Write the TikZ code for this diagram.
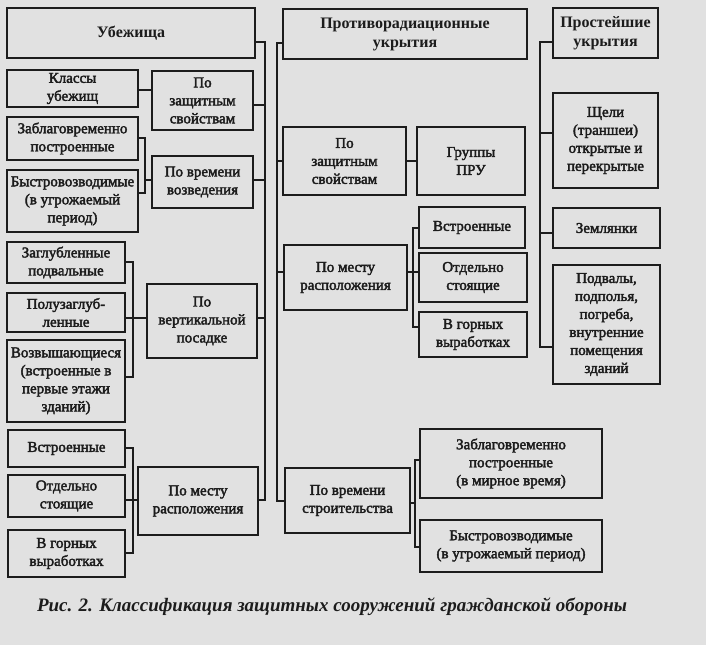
\documentclass[tikz,border=0pt]{standalone}
\usepackage{fontspec}
\setmainfont{Liberation Serif}
\newfontfamily\bodyfont[FakeBold=2.5]{Liberation Serif}
\usetikzlibrary{calc}
\definecolor{bg}{HTML}{E1E1E1}
\definecolor{ink}{HTML}{1C1C1C}
\newcommand\Bx[7]{\node[#2, anchor=north west, minimum width={(#5-#3)*1pt}, minimum height={(#6-#4)*1pt}] (#1) at (#3,#4) {#7};}
\begin{document}
\begin{tikzpicture}[x=1pt,y=-1pt,
  box/.style={draw=ink, line width=2.5pt, fill=bg, inner sep=0pt, outer sep=0pt, align=center, font=\bodyfont\fontsize{15}{18}\selectfont, text=ink},
  head/.style={box, font=\rmfamily\fontsize{16}{19}\selectfont\bfseries},
  link/.style={draw=ink, line width=2pt}]
\fill[bg] (0,0) rectangle (706,645);
\useasboundingbox (0,0) rectangle (706,645);
% left column
\Bx{ub}{head}{7}{8}{255}{58}{Убежища}
\Bx{ub_cls}{box}{7}{70}{138}{107}{Классы\\убежищ}
\Bx{ub_prot}{box}{152}{71}{253}{130}{По\\защитным\\свойствам}
\Bx{ub_zab}{box}{7}{117}{138}{160}{Заблаговременно\\построенные}
\Bx{ub_bys}{box}{7}{170}{138}{232}{Быстровозводимые\\(в угрожаемый\\период)}
\Bx{ub_time}{box}{152}{156}{253}{208}{По времени\\возведения}
\Bx{ub_zagl}{box}{7}{242}{125}{283}{Заглубленные\\подвальные}
\Bx{ub_polu}{box}{7}{293}{125}{332}{Полузаглуб-\\ленные}
\Bx{ub_vozv}{box}{7}{340}{125}{422}{Возвышающиеся\\(встроенные в\\первые этажи\\зданий)}
\Bx{ub_vert}{box}{147}{284}{257}{358}{По\\вертикальной\\посадке}
\Bx{ub_vstr}{box}{8}{430}{125}{467}{Встроенные}
\Bx{ub_otd}{box}{8}{475}{125}{517}{Отдельно\\стоящие}
\Bx{ub_gor}{box}{8}{530}{125}{577}{В горных\\выработках}
\Bx{ub_mesto}{box}{138}{467}{258}{535}{По месту\\расположения}
% middle column
\Bx{pru}{head}{283}{9}{527}{59}{Противорадиационные\\укрытия}
\Bx{pru_prot}{box}{283}{127}{406}{195}{По\\защитным\\свойствам}
\Bx{pru_grp}{box}{417}{127}{525}{195}{Группы\\ПРУ}
\Bx{pru_mesto}{box}{284}{245}{407}{310}{По месту\\расположения}
\Bx{pru_vstr}{box}{419}{207}{525}{248}{Встроенные}
\Bx{pru_otd}{box}{419}{253}{527}{302}{Отдельно\\стоящие}
\Bx{pru_gor}{box}{419}{312}{527}{357}{В горных\\выработках}
\Bx{pru_time}{box}{285}{468}{410}{533}{По времени\\строительства}
\Bx{pru_zab}{box}{420}{429}{602}{498}{Заблаговременно\\построенные\\(в мирное время)}
\Bx{pru_bys}{box}{420}{520}{602}{572}{Быстровозводимые\\(в угрожаемый период)}
% right column
\Bx{pr}{head}{553}{8}{658}{58}{Простейшие\\укрытия}
\Bx{pr_sch}{box}{553}{93}{658}{188}{Щели\\(траншеи)\\открытые и\\перекрытые}
\Bx{pr_zem}{box}{553}{208}{660}{248}{Землянки}
\Bx{pr_podv}{box}{553}{265}{660}{384}{Подвалы,\\подполья,\\погреба,\\внутренние\\помещения\\зданий}
% connectors: Убежища
\coordinate (tA) at (265,0);
\coordinate (ubH) at ($(ub.east)+(0,9)$);
\coordinate (ubM) at ($(ub_mesto.east)+(0,-1)$);
\coordinate (ubP) at ($(ub_prot.east)+(0,4.5)$);
\coordinate (ubT) at ($(ub_time.east)+(0,-2)$);
\coordinate (ubV) at ($(ub_vert.east)+(0,-3)$);
\draw[link] (ubH) -- (ubH -| tA) -- (tA |- ubM) -- (ubM);
\draw[link] (ubP) -- (ubP -| tA);
\draw[link] (ubT) -- (ubT -| tA);
\draw[link] (ubV) -- (ubV -| tA);
\coordinate (ubC) at ($(ub_cls.east)+(0,1.5)$);
\draw[link] (ubC) -- (ubC -| ub_prot.west);
\coordinate (bA) at (145,0);
\coordinate (zA) at ($(ub_zab.east)+(0,-0.5)$);
\coordinate (zB) at ($(ub_bys.east)+(0,-8)$);
\draw[link] (zA) -- (zA -| bA) -- (bA |- zB) -- (zB);
\draw[link] (bA |- ubT) -- (ubT -| ub_time.west);
\coordinate (bB) at (133,0);
\coordinate (vA) at ($(ub_zagl.east)+(0,-0.5)$);
\coordinate (vB) at ($(ub_vozv.east)+(0,-4)$);
\draw[link] (vA) -- (vA -| bB) -- (bB |- vB) -- (vB);
\draw[link] (ub_polu.east |- ubV) -- (ubV -| ub_vert.west);
\coordinate (mA) at ($(ub_vstr.east)+(0,-0.5)$);
\coordinate (mB) at ($(ub_gor.east)+(0,-0.5)$);
\draw[link] (mA) -- (mA -| bB) -- (bB |- mB) -- (mB);
\draw[link] (ub_otd.east |- ubM) -- (ubM -| ub_mesto.west);
% connectors: ПРУ
\coordinate (tB) at (277,0);
\coordinate (pruH) at ($(pru.west)+(0,9)$);
\coordinate (pruT) at ($(pru_time.west)+(0,0.5)$);
\coordinate (pruM) at ($(pru_mesto.west)+(0,-5.5)$);
\draw[link] (pruH) -- (pruH -| tB) -- (tB |- pruT) -- (pruT);
\draw[link] (pru_prot.west) -- (pru_prot.west -| tB);
\draw[link] (pruM) -- (pruM -| tB);
\draw[link] (pru_prot.east) -- (pru_prot.east -| pru_grp.west);
\coordinate (bC) at (413,0);
\coordinate (gA) at ($(pru_vstr.west)+(0,0.5)$);
\coordinate (gB) at ($(pru_gor.west)+(0,-7.5)$);
\draw[link] (gA) -- (gA -| bC) -- (bC |- gB) -- (gB);
\draw[link] (pruM -| pru_mesto.east) -- (pruM -| pru_otd.west);
\coordinate (bD) at (415,0);
\coordinate (sA) at ($(pru_zab.west)+(0,-3.5)$);
\coordinate (sB) at ($(pru_bys.west)+(0,1)$);
\coordinate (sT) at ($(pru_time.east)+(0,2.5)$);
\draw[link] (sA) -- (sA -| bD) -- (bD |- sB) -- (sB);
\draw[link] (sT) -- (sT -| bD);
% connectors: Простейшие
\coordinate (tC) at (540,0);
\coordinate (prH) at ($(pr.west)+(0,9)$);
\coordinate (prS) at ($(pr_sch.west)+(0,-7.5)$);
\coordinate (prZ) at ($(pr_zem.west)+(0,5)$);
\coordinate (prP) at ($(pr_podv.west)+(0,22.5)$);
\draw[link] (prH) -- (prH -| tC) -- (tC |- prP) -- (prP);
\draw[link] (prS) -- (prS -| tC);
\draw[link] (prZ) -- (prZ -| tC);
% caption
\node[font=\rmfamily\fontsize{19}{22}\selectfont\bfseries\itshape, text=ink] (cap) at (332,607) {Рис. 2. Классификация защитных сооружений гражданской обороны};
\end{tikzpicture}
\end{document}
